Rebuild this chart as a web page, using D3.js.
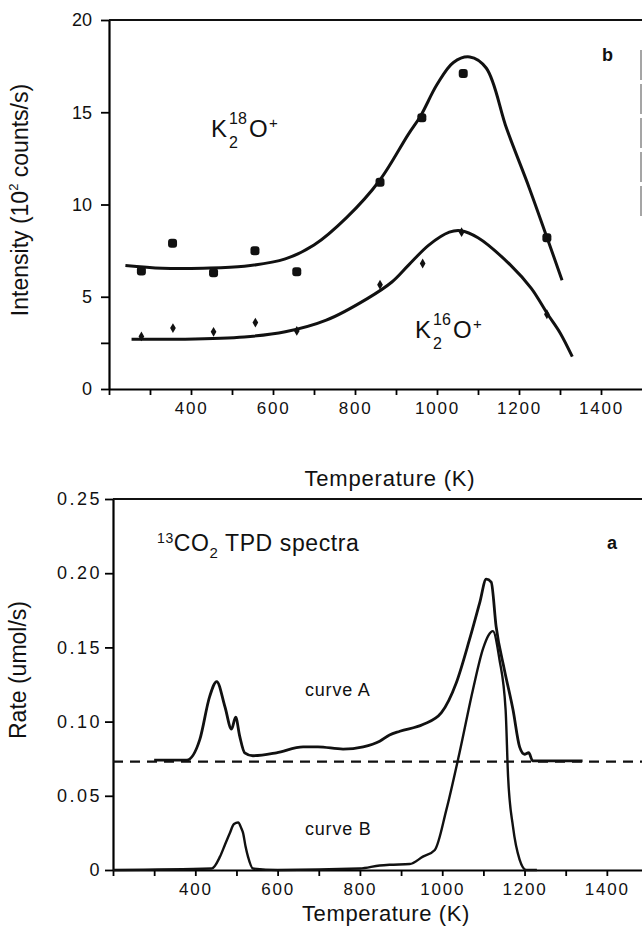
<!DOCTYPE html>
<html>
<head>
<meta charset="utf-8">
<script src="https://cdn.jsdelivr.net/npm/d3@7"></script>
<style>
  body { margin: 0; background: #fff; }
  svg { display: block; font-family: "Liberation Sans", Arial, sans-serif; }
</style>
</head>
<body>
<div id="chart"></div>
<script>
// ---- panel b: K2O+ intensities ----
const fit18T = [240, 330, 430, 530, 630, 700, 780, 860, 930, 960, 1000, 1040, 1080, 1120, 1170, 1225, 1270, 1305];
const fit18V = [6.7, 6.55, 6.55, 6.65, 7.05, 7.8, 9.3, 11.3, 13.8, 14.8, 16.5, 17.7, 18.0, 17.4, 14.1, 10.9, 8.1, 5.9];
const fit16T = [255, 380, 530, 630, 730, 830, 890, 930, 980, 1030, 1058, 1100, 1180, 1230, 1270, 1300, 1330];
const fit16V = [2.7, 2.7, 2.82, 3.1, 3.73, 4.9, 5.8, 6.7, 7.8, 8.5, 8.58, 8.2, 6.7, 5.45, 4.05, 3.05, 1.75];
const pts18T = [279, 355, 455, 556, 658, 861, 963, 1064, 1268];
const pts18V = [6.4, 7.9, 6.3, 7.5, 6.35, 11.2, 14.7, 17.1, 8.2];
const pts16T = [279, 356, 455, 557, 658, 861, 965, 1060, 1268];
const pts16V = [2.85, 3.3, 3.1, 3.6, 3.15, 5.65, 6.8, 8.5, 4.05];
const yTicksB = [0, 5, 10, 15, 20];

// ---- panel a: 13CO2 TPD spectra ----
const curveAT = [300, 379, 411, 435, 452, 472, 488, 498, 508, 520, 540, 597, 662, 698, 759, 808, 848, 872, 897, 953, 998, 1034, 1066, 1091, 1107, 1119, 1131, 1151, 1172, 1188, 1200, 1210, 1220, 1341];
const curveAV = [0.074, 0.074, 0.088, 0.117, 0.127, 0.110, 0.095, 0.103, 0.090, 0.079, 0.077, 0.079, 0.083, 0.083, 0.0815, 0.083, 0.0867, 0.091, 0.0935, 0.098, 0.106, 0.126, 0.155, 0.180, 0.196, 0.194, 0.164, 0.135, 0.108, 0.083, 0.078, 0.079, 0.0735, 0.0735];
const curveBT = [200, 440, 460, 472, 484, 494, 504, 512, 516, 522, 528, 540, 600, 800, 848, 872, 921, 953, 982, 1010, 1042, 1075, 1099, 1112, 1123, 1139, 1154, 1160, 1172, 1188, 1204, 1230];
const curveBV = [0, 0.001, 0.009, 0.017, 0.025, 0.031, 0.032, 0.028, 0.025, 0.016, 0.009, 0.001, 0, 0.001, 0.003, 0.0035, 0.004, 0.009, 0.0135, 0.0405, 0.079, 0.122, 0.149, 0.158, 0.161, 0.142, 0.108, 0.063, 0.029, 0.007, 0, 0];
const baseT = [200, 1500];
const baseV = [0.073, 0.073];
const yTicksA = [0, 0.05, 0.10, 0.15, 0.20, 0.25];
const yLabelsA = ["0", "0.05", "0.10", "0.15", "0.20", "0.25"];

const xTicks = d3.range(200, 1500, 100);

const svg = d3.select("#chart").append("svg")
    .attr("width", 642)
    .attr("height", 933);

const zip = (a, b) => a.map((d, i) => [d, b[i]]);

function xAxis(g, x) {
    g.call(d3.axisBottom(x).tickValues(xTicks).tickSize(6).tickSizeOuter(0)
        .tickFormat(d => d % 200 === 0 && d > 200 ? d : ""));
    g.select(".domain").attr("stroke-width", 2.2);
    g.selectAll(".tick line").attr("stroke-width", 1.8);
    g.selectAll("text").attr("font-size", 17).attr("letter-spacing", 1.8)
        .attr("fill", "#111").attr("dy", "0.95em");
}

// ================= top panel (b) =================
const xb = d3.scaleLinear().domain([200, 1500]).range([109, 642]);
const yb = d3.scaleLinear().domain([0, 20]).range([389, 20]);

const gb = svg.append("g");
gb.append("g").attr("transform", `translate(0,${yb(0)})`).call(g => xAxis(g, xb));
gb.append("g").attr("transform", `translate(${xb(200)},0)`)
    .call(d3.axisLeft(yb).tickValues(yTicksB.concat([2.5])).tickSize(8).tickSizeOuter(0)
        .tickFormat(d => d === 2.5 ? "" : d))
    .call(g => {
        g.select(".domain").attr("stroke-width", 2.2);
        g.selectAll(".tick line").attr("stroke-width", 1.8);
        g.selectAll("text").attr("font-size", 18).attr("fill", "#111").attr("dx", "-6");
    });
// frame top + partial right edge
gb.append("line").attr("x1", xb(200)).attr("x2", 642).attr("y1", yb(20)).attr("y2", yb(20))
    .attr("stroke", "#111").attr("stroke-width", 2.2);
gb.append("line").attr("x1", 641).attr("x2", 641).attr("y1", 50).attr("y2", 220)
    .attr("stroke", "#888").attr("stroke-width", 1.5).attr("stroke-dasharray", "30,4");

const lineB = d3.line().x(d => xb(d[0])).y(d => yb(d[1])).curve(d3.curveCatmullRom.alpha(0.5));
gb.append("path").datum(zip(fit18T, fit18V)).attr("d", lineB)
    .attr("fill", "none").attr("stroke", "#111").attr("stroke-width", 3);
gb.append("path").datum(zip(fit16T, fit16V)).attr("d", lineB)
    .attr("fill", "none").attr("stroke", "#111").attr("stroke-width", 3);

gb.selectAll("rect.p18").data(zip(pts18T, pts18V)).join("rect")
    .attr("x", d => xb(d[0]) - 4.5).attr("y", d => yb(d[1]) - 4.5)
    .attr("width", 9).attr("height", 9).attr("rx", 3).attr("fill", "#111");
gb.selectAll("path.p16").data(zip(pts16T, pts16V)).join("path")
    .attr("transform", d => `translate(${xb(d[0])},${yb(d[1])})`)
    .attr("d", d3.symbol(d3.symbolDiamond, 28)).attr("fill", "#111");

gb.append("text").attr("transform", "translate(28,200) rotate(-90)")
    .attr("text-anchor", "middle").attr("font-size", 23).attr("fill", "#111")
    .call(t => {
        t.append("tspan").text("Intensity (10");
        t.append("tspan").attr("font-size", 13).attr("dy", -10).text("2");
        t.append("tspan").attr("dy", 10).text(" counts/s)");
    });

function kLabel(x, y, iso) {
    const g = gb.append("g").attr("fill", "#111");
    g.append("text").attr("x", x).attr("y", y).attr("font-size", 24).text("K");
    g.append("text").attr("x", x + 18).attr("y", y - 13).attr("font-size", 16).text(iso);
    g.append("text").attr("x", x + 18).attr("y", y + 11).attr("font-size", 16).text("2");
    g.append("text").attr("x", x + 38).attr("y", y).attr("font-size", 24).text("O");
    g.append("text").attr("x", x + 58).attr("y", y - 9).attr("font-size", 15).text("+");
}
kLabel(211, 137, "18");
kLabel(415, 338, "16");
gb.append("text").attr("x", 602).attr("y", 61).attr("font-size", 18)
    .attr("font-weight", "bold").attr("fill", "#111").text("b");

svg.append("text").attr("x", 390).attr("y", 486).attr("text-anchor", "middle")
    .attr("font-size", 22).attr("letter-spacing", 0.8).attr("fill", "#111").text("Temperature (K)");

// ================= bottom panel (a) =================
const xa = d3.scaleLinear().domain([200, 1500]).range([113, 648]);
const ya = d3.scaleLinear().domain([0, 0.25]).range([870, 499]);

const ga = svg.append("g");
ga.append("g").attr("transform", `translate(0,${ya(0)})`).call(g => xAxis(g, xa));
ga.append("g").attr("transform", `translate(${xa(200)},0)`)
    .call(d3.axisLeft(ya).tickValues(yTicksA).tickSize(8).tickSizeOuter(0)
        .tickFormat((d, i) => yLabelsA[i]))
    .call(g => {
        g.select(".domain").attr("stroke-width", 2.2);
        g.selectAll(".tick line").attr("stroke-width", 1.8);
        g.selectAll("text").attr("font-size", 18).attr("letter-spacing", 2.5).attr("fill", "#111");
    });
ga.append("line").attr("x1", xa(200)).attr("x2", 642).attr("y1", ya(0.25)).attr("y2", ya(0.25))
    .attr("stroke", "#111").attr("stroke-width", 2.2);

const lineA = d3.line().x(d => xa(d[0])).y(d => ya(d[1])).curve(d3.curveMonotoneX);
ga.append("path").datum(zip(baseT, baseV)).attr("d", lineA)
    .attr("fill", "none").attr("stroke", "#111").attr("stroke-width", 2.2)
    .attr("stroke-dasharray", "10,7");
ga.append("path").datum(zip(curveAT, curveAV)).attr("d", lineA)
    .attr("fill", "none").attr("stroke", "#111").attr("stroke-width", 2.8);
ga.append("path").datum(zip(curveBT, curveBV)).attr("d", lineA)
    .attr("fill", "none").attr("stroke", "#111").attr("stroke-width", 2.4);

ga.append("text").attr("transform", "translate(26,670) rotate(-90)")
    .attr("text-anchor", "middle").attr("font-size", 23).attr("fill", "#111")
    .text("Rate (umol/s)");

ga.append("text").attr("x", 157).attr("y", 551).attr("font-size", 23)
    .attr("letter-spacing", 0.6).attr("fill", "#111")
    .call(t => {
        t.append("tspan").attr("font-size", 14).attr("dy", -8).text("13");
        t.append("tspan").attr("dy", 8).text("CO");
        t.append("tspan").attr("font-size", 15).attr("dy", 7).text("2");
        t.append("tspan").attr("dy", -7).text(" TPD spectra");
    });
ga.append("text").attr("x", 607).attr("y", 549).attr("font-size", 18)
    .attr("font-weight", "bold").attr("fill", "#111").text("a");
ga.append("text").attr("x", 305).attr("y", 696).attr("font-size", 18)
    .attr("letter-spacing", 0.8).attr("fill", "#111").text("curve A");
ga.append("text").attr("x", 305).attr("y", 835).attr("font-size", 18)
    .attr("letter-spacing", 0.8).attr("fill", "#111").text("curve B");

svg.append("text").attr("x", 386).attr("y", 921).attr("text-anchor", "middle")
    .attr("font-size", 22).attr("letter-spacing", 0.6).attr("fill", "#111").text("Temperature (K)");
</script>
</body>
</html>
